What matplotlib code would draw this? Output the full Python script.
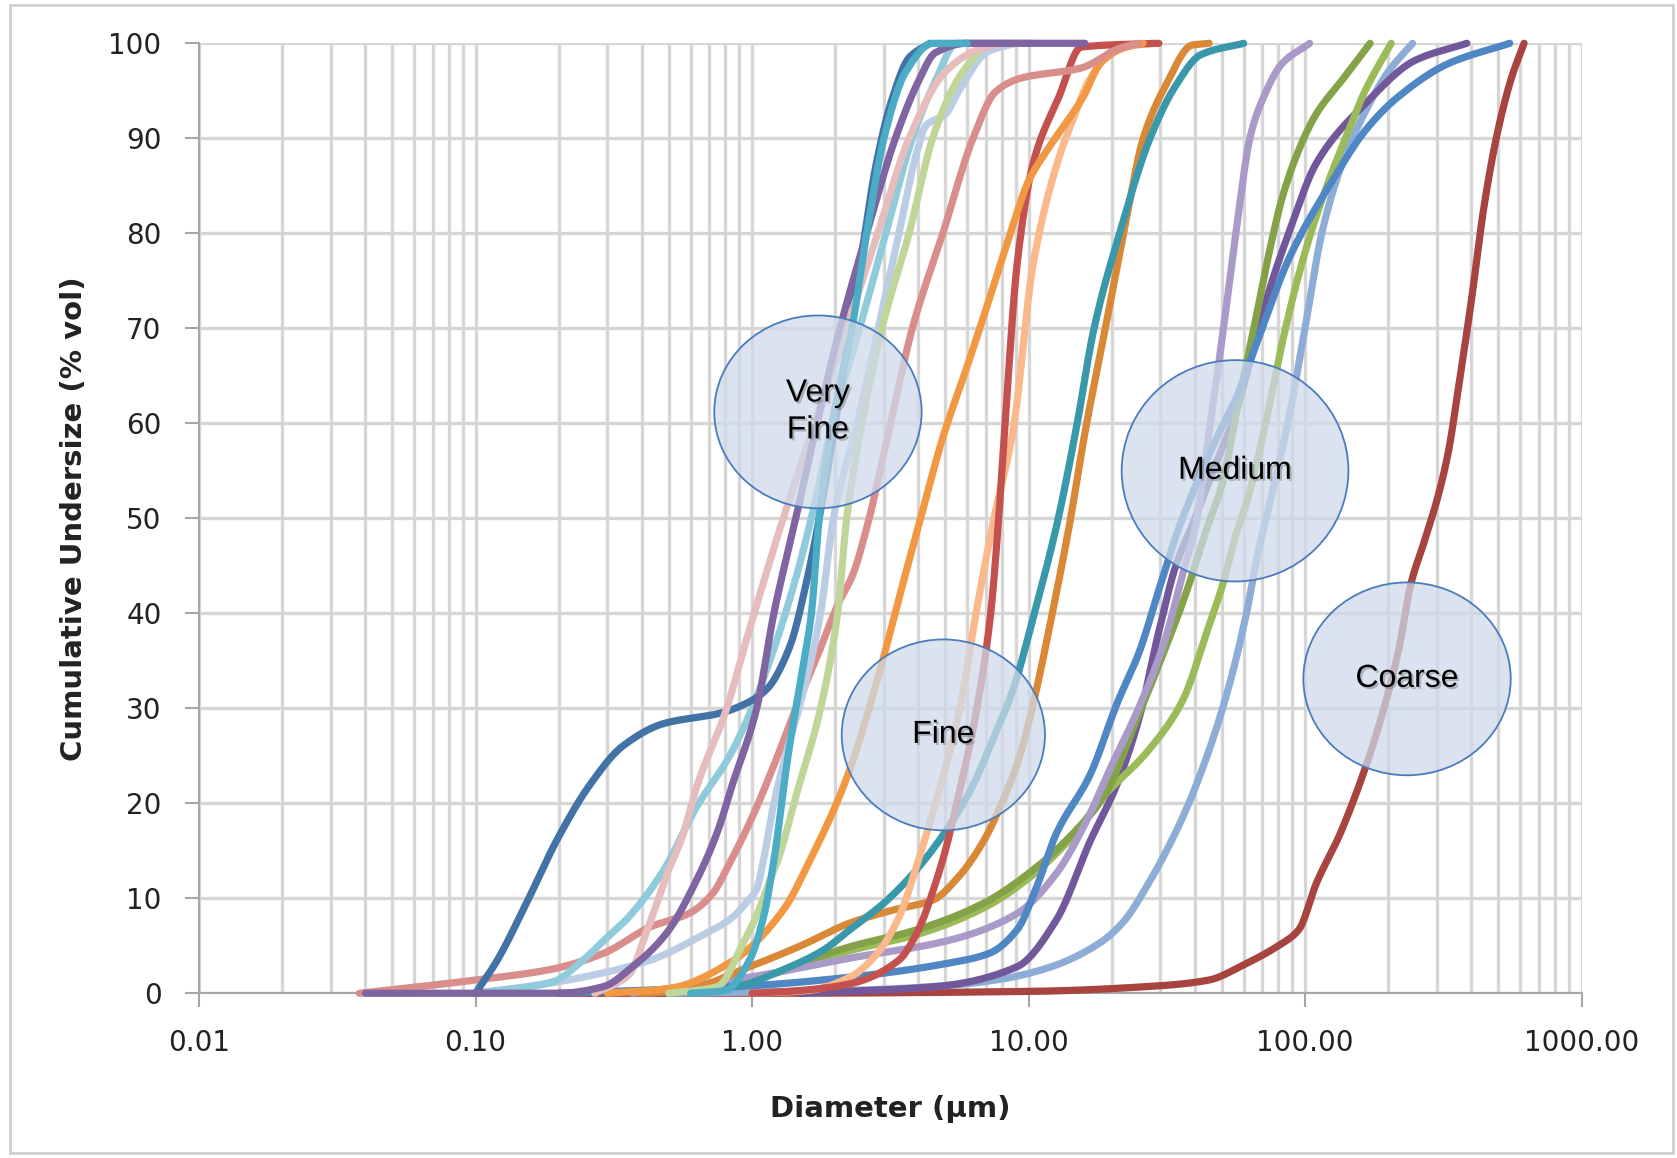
import numpy as np
import matplotlib
matplotlib.use("Agg")
import matplotlib.pyplot as plt
from matplotlib.patches import Ellipse, Rectangle
from matplotlib.ticker import FixedLocator, LogLocator, NullFormatter
import matplotlib.patheffects as pe

W, H, DPI = 1677, 1158, 100

# ---------------- cumulative undersize curves: diameter (µm) / % vol ----------------
steel_d = [0.10, 0.12, 0.15, 0.20, 0.26, 0.34, 0.48, 0.77, 0.95, 1.13, 1.37, 1.58, 1.75, 2.0, 2.2, 2.5, 2.8, 3.2, 3.7, 4.4]
steel_v = [0, 3.5, 9, 16.5, 22, 26, 28.4, 29.5, 30.5, 32, 36.5, 43.5, 50, 60, 68, 78, 87, 94, 98.5, 100]

aqua_d = [0.6, 0.8, 0.98, 1.1, 1.2, 1.35, 1.5, 1.64, 1.75, 1.95, 2.3, 2.6, 3.0, 3.6, 4.5, 6.0]
aqua_v = [0, 0.3, 3.5, 8, 14, 25, 33, 40, 50, 60, 70, 80, 90, 97, 100, 100]

purple_d = [0.04, 0.2, 0.29, 0.37, 0.49, 0.63, 0.75, 0.85, 1.04, 1.2, 1.44, 1.72, 2.08, 2.6, 3.3, 4.0, 4.6, 6.0, 16.0]
purple_v = [0, 0, 0.7, 2.8, 6.3, 11.9, 17, 22, 30, 40, 50, 60, 70, 80, 90, 96, 99, 100, 100]

rose_d = [0.27, 0.36, 0.41, 0.5, 0.56, 0.63, 0.81, 0.95, 1.12, 1.33, 1.73, 2.2, 2.85, 3.7, 5.0, 6.5, 8.0]
rose_v = [0, 2, 6, 13, 16.5, 21.7, 30, 37, 44, 51, 61, 70, 80, 90, 97, 99.3, 100]

skyblue_d = [0.1, 0.19, 0.245, 0.29, 0.36, 0.48, 0.63, 0.83, 1.0, 1.16, 1.45, 1.7, 1.95, 2.45, 3.05, 3.8, 4.6, 5.5, 10.4]
skyblue_v = [0, 1.2, 3.5, 5.5, 8.1, 13, 19.6, 25, 30, 35, 44, 52, 60, 70, 80, 90, 96, 100, 100]

lime_d = [0.5, 0.75, 0.93, 1.05, 1.16, 1.24, 1.45, 1.77, 2.04, 2.2, 2.5, 2.95, 3.7, 4.5, 5.5, 7.0]
lime_v = [0, 0.7, 5.3, 8.5, 11.9, 14, 21, 30, 40, 50, 60, 70, 80, 90, 96, 100]

ice_d = [0.1, 0.18, 0.245, 0.43, 0.65, 0.85, 0.95, 1.04, 1.1, 1.2, 1.35, 1.48, 1.77, 1.97, 2.4, 2.86, 3.4, 3.9, 4.27, 5.0, 5.6, 7.1, 9.0]
ice_v = [0, 1, 1.7, 3.5, 6, 8, 9.5, 11, 14, 20, 26, 30, 40, 50, 60, 70, 80, 88, 91.4, 92.5, 95, 99.1, 100]

salmon_d = [0.038, 0.1, 0.186, 0.29, 0.43, 0.6, 0.72, 0.83, 1.0, 1.2, 1.44, 1.75, 2.05, 2.31, 2.6, 3.17, 3.8, 4.9, 6.3, 7.6, 9.3, 15.5, 21.5, 25.0]
salmon_v = [0, 1.4, 2.5, 4.2, 7, 8.5, 10.5, 13.7, 18.5, 24, 30, 36, 41, 44, 49, 60, 70, 80, 90, 94.9, 96.3, 97.4, 99.5, 100]

orange_d = [0.3, 0.5, 0.86, 1.3, 1.62, 2.19, 2.84, 3.43, 4.07, 4.9, 6.0, 7.2, 8.6, 10.0, 11.9, 15.8, 18.2, 22.0, 26.0]
orange_v = [0, 0.5, 3.5, 8.8, 14, 22.5, 33, 42, 50, 58.5, 66, 73, 80, 85.5, 89.1, 94.4, 97.9, 99.5, 100]

red_d = [1.0, 1.5, 2.26, 3.4, 4.0, 4.6, 5.0, 5.5, 6.46, 7.3, 7.8, 8.2, 9.1, 10.4, 12.9, 15.5, 29.6]
red_v = [0, 0.3, 1, 3.5, 6.7, 11.5, 15, 20, 29.5, 40, 50, 59.3, 76.8, 87.4, 94.4, 99.6, 100]

peach_d = [1.0, 1.6, 2.26, 2.8, 3.4, 3.9, 4.5, 5.6, 6.46, 7.5, 8.8, 10.4, 12.9, 14.5, 16.5, 21.0, 28.0]
peach_v = [0, 0.3, 1.7, 4, 8, 13, 19, 29.5, 40, 50, 59.3, 76.8, 88, 92, 96, 99.5, 100]

teal_d = [0.5, 0.9, 1.3, 1.8, 2.26, 3.0, 3.8, 5.0, 6.25, 7.5, 8.8, 10.5, 12.7, 15.0, 17.2, 21.5, 27.5, 34.0, 42.0, 60.0]
teal_v = [0, 0.8, 2.5, 4.5, 6.7, 9.5, 12.5, 17, 21.7, 27, 32, 40, 49.5, 60, 69.8, 80.3, 90, 95.5, 98.8, 100]

amber_d = [0.4, 0.56, 0.98, 1.5, 2.26, 3.27, 4.5, 5.6, 6.9, 8.0, 9.3, 10.5, 12.0, 14.1, 16.0, 18.9, 22.2, 26.0, 31.4, 39.0, 45.0]
amber_v = [0, 0.3, 2.8, 5, 7.4, 8.8, 9.8, 12.3, 16.1, 20, 25, 31, 39, 49.5, 59, 69.8, 80.3, 90, 95.6, 99.8, 100]

blue_d = [0.2, 1.0, 2.26, 5.2, 7.2, 9.1, 10.7, 12.6, 16.7, 20.9, 25.2, 30.0, 35.0, 41.0, 48.0, 57.0, 67.0, 88.0, 126, 166, 218, 332, 550]
blue_v = [0, 0.8, 1.7, 3.2, 4.2, 6.7, 11.2, 16.8, 23, 30.5, 36, 43, 49, 54, 58.5, 63, 68.5, 77.5, 85.6, 90.9, 94.4, 97.9, 100]

lavender_d = [0.37, 0.98, 2.26, 5.2, 9.1, 12.6, 15.8, 20.0, 25.0, 31.0, 36.0, 40.4, 45.1, 50.6, 56.4, 63.4, 71.0, 82.8, 104]
lavender_v = [0, 1.7, 3.7, 5.6, 8.4, 12.6, 17.5, 24, 30, 37, 44, 49.5, 59.3, 69.8, 80.3, 90.2, 94.4, 97.9, 100]

olive_d = [0.4, 1.0, 2.26, 3.96, 6.9, 10.4, 14.9, 19.0, 24.0, 30.0, 37.0, 44.0, 50.6, 56.4, 67.0, 75.0, 83.0, 96.0, 110, 136, 172]
olive_v = [0, 1.5, 4.9, 6.7, 9.5, 13, 17.2, 21, 28, 35, 42, 48.8, 54, 61, 71.6, 78.6, 83.9, 89.1, 92.6, 96.1, 100]

green_d = [0.5, 1.0, 2.26, 3.96, 6.9, 10.4, 14.9, 18.1, 27.2, 36.2, 44.0, 50.6, 56.4, 62.0, 72.0, 85.0, 100, 120, 140, 165, 205]
green_v = [0, 1.5, 4.5, 6.2, 9, 12.5, 17, 20.3, 25.6, 30.9, 37.9, 43.2, 48.4, 52, 60, 70, 78, 85, 90, 95, 100]

plum_d = [1.5, 4.6, 9.1, 12.6, 16.7, 20.9, 25.2, 29.5, 34.0, 40.0, 48.0, 56.0, 63.0, 73.0, 88.0, 110, 166, 250, 385]
plum_v = [0, 0.7, 2.8, 7.7, 16, 22, 29.1, 37.9, 44.9, 50, 56, 61, 66.3, 73.3, 80.3, 87.4, 93.7, 98.2, 100]

steelblue_d = [0.5, 2.26, 5.0, 8.0, 12.1, 18.1, 22.0, 27.2, 36.2, 45.0, 53.4, 61.0, 68.0, 75.0, 88.0, 100, 115, 135, 160, 200, 245]
steelblue_v = [0, 0.3, 0.8, 1.5, 2.8, 5.3, 7.5, 11.6, 18.6, 25.6, 32.6, 39.6, 46.7, 51.9, 61, 70, 80, 87, 92, 97, 100]

brick_d = [0.2, 1.0, 10.0, 30.0, 45.0, 60.0, 80.0, 95.0, 110, 134, 166, 189, 218, 242, 269, 300, 330, 360, 400, 445, 500, 560, 620]
brick_v = [0, 0, 0.2, 0.8, 1.4, 3, 5, 6.7, 11.6, 16.8, 23.9, 29.1, 36.1, 43.2, 47.4, 51.9, 57, 64, 73, 83, 91, 96.5, 100]

series = [
    (brick_d, brick_v, "#A8443F"),
    (steelblue_d, steelblue_v, "#8DADD7"),
    (plum_d, plum_v, "#72589A"),
    (green_d, green_v, "#9BBB59"),
    (olive_d, olive_v, "#84A349"),
    (lavender_d, lavender_v, "#A99AC8"),
    (blue_d, blue_v, "#4F86C4"),
    (amber_d, amber_v, "#D98836"),
    (teal_d, teal_v, "#3A98AB"),
    (peach_d, peach_v, "#F9B98A"),
    (red_d, red_v, "#C4514D"),
    (orange_d, orange_v, "#F39842"),
    (salmon_d, salmon_v, "#DA8E8C"),
    (ice_d, ice_v, "#BACDE4"),
    (lime_d, lime_v, "#C0D698"),
    (skyblue_d, skyblue_v, "#8FCBDB"),
    (steel_d, steel_v, "#4372A6"),
    (rose_d, rose_v, "#E6BDBC"),
    (purple_d, purple_v, "#8064A2"),
    (aqua_d, aqua_v, "#4AACC5"),
]

xtick_vals = [0.01, 0.1, 1, 10, 100, 1000]
xtick_labels = ["0.01", "0.10", "1.00", "10.00", "100.00", "1000.00"]
ytick_vals = list(range(0, 101, 10))

# size-class callouts: label, centre and size in axes fractions
classes = [
    ("Very\nFine", 0.4477, 0.612, 0.150, 0.203),
    ("Fine", 0.5384, 0.272, 0.147, 0.201),
    ("Medium", 0.7494, 0.550, 0.164, 0.233),
    ("Coarse", 0.8738, 0.331, 0.150, 0.203),
]


def smooth_line(xs, ys, n=30):
    """Monotone cubic (smoothed line) through the points, in log-diameter space."""
    x = np.log10(np.asarray(xs, float))
    y = np.asarray(ys, float)
    h = np.diff(x)
    delta = np.diff(y) / h
    m = np.zeros_like(y)
    m[0], m[-1] = delta[0], delta[-1]
    for k in range(1, len(y) - 1):
        if delta[k - 1] * delta[k] <= 0:
            m[k] = 0.0
        else:
            w1 = 2 * h[k] + h[k - 1]
            w2 = h[k] + 2 * h[k - 1]
            m[k] = (w1 + w2) / (w1 / delta[k - 1] + w2 / delta[k])
    xx, yy = [], []
    for k in range(len(h)):
        t = np.linspace(0, 1, n, endpoint=(k == len(h) - 1))
        h00 = 2 * t**3 - 3 * t**2 + 1
        h10 = t**3 - 2 * t**2 + t
        h01 = -2 * t**3 + 3 * t**2
        h11 = t**3 - t**2
        yy.append(h00 * y[k] + h10 * h[k] * m[k] + h01 * y[k + 1] + h11 * h[k] * m[k + 1])
        xx.append(x[k] + t * h[k])
    return 10 ** np.concatenate(xx), np.clip(np.concatenate(yy), 0, 100)


fig = plt.figure(figsize=(W / DPI, H / DPI), dpi=DPI)
fig.patch.set_facecolor("white")
ax = fig.add_axes([199 / W, 1 - 993.3 / H, 1382.5 / W, 950 / H])

ax.set_xscale("log")
ax.set_xlim(0.01, 1000)
ax.set_ylim(0, 100)

grid_col = "#D6D6D6"
ax.xaxis.set_major_locator(FixedLocator(xtick_vals))
ax.xaxis.set_minor_locator(LogLocator(base=10, subs=np.arange(2, 10)))
ax.xaxis.set_minor_formatter(NullFormatter())
ax.set_xticklabels(xtick_labels)
ax.set_yticks(ytick_vals)
ax.grid(True, which="major", axis="both", color=grid_col, lw=2.4, zorder=0)
ax.grid(True, which="minor", axis="x", color=grid_col, lw=2.4, zorder=0)
ax.set_axisbelow(True)

for side in ("top", "right"):
    ax.spines[side].set_visible(False)
for side in ("left", "bottom"):
    ax.spines[side].set_color("#A6A6A6")
    ax.spines[side].set_linewidth(1.5)

ax.tick_params(axis="both", which="major", color="#A6A6A6", width=1.5, length=10,
               labelsize=20, labelcolor="#222222")
ax.tick_params(axis="y", pad=17)
ax.tick_params(axis="x", pad=16)
ax.tick_params(axis="x", which="minor", length=0)

for d, v, c in series:
    sx, sy = smooth_line(d, v)
    ax.plot(sx, sy, color=c, lw=5.2, solid_capstyle="round", solid_joinstyle="round",
            clip_on=False, zorder=3)

shadow = [pe.SimplePatchShadow(offset=(1.5, -1.5), shadow_rgbFace="#555555", alpha=0.35),
          pe.Normal()]
for label, cx, cy, w, h in classes:
    ax.add_patch(Ellipse((cx, cy), w, h, transform=ax.transAxes, facecolor="#CEDAEA",
                         alpha=0.74, edgecolor="none", zorder=5))
    ax.add_patch(Ellipse((cx, cy), w, h, transform=ax.transAxes, facecolor="none",
                         edgecolor="#4A7CBC", lw=1.3, zorder=6))
    ax.text(cx, cy, label, transform=ax.transAxes, ha="center", va="center",
            fontsize=23, family="Liberation Sans", color="black", linespacing=1.3,
            zorder=7, path_effects=shadow)

ax.set_xlabel("Diameter (µm)", fontsize=21, fontweight="bold", color="#222222", labelpad=27)
ax.set_ylabel("Cumulative Undersize (% vol)", fontsize=21, fontweight="bold",
              color="#222222", labelpad=15)

fig.add_artist(Rectangle((10 / W, 5 / H), 1663 / W, 1148 / H, transform=fig.transFigure,
                         facecolor="none", edgecolor="#CFCFCF", lw=2))

fig.savefig("out.png", dpi=DPI)
